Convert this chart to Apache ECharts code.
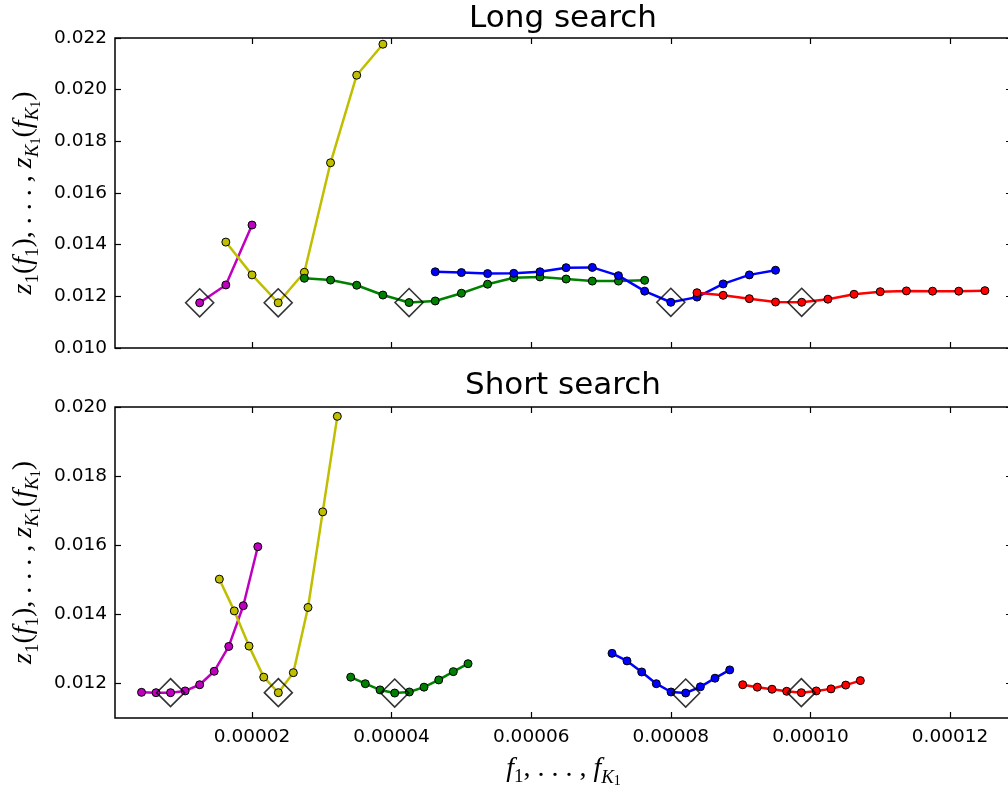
<!DOCTYPE html>
<html>
<head>
<meta charset="utf-8">
<script src="https://cdn.jsdelivr.net/npm/echarts@6/dist/echarts.min.js"></script>
<style>
  html, body { margin: 0; padding: 0; background: #fff; }
  #chart { width: 1008px; height: 789px; }
</style>
</head>
<body>
<div id="chart"></div>
<script>
// ---- Long search: candidate frequencies (f) and objective values (z) ----
const longMagentaF = [12.5e-6, 16.25e-6, 20.0e-6];
const longMagentaZ = [0.01175, 0.01244, 0.01476];
const longYellowF = [16.25e-6, 20.0e-6, 23.75e-6, 27.5e-6, 31.25e-6, 35.0e-6, 38.75e-6];
const longYellowZ = [0.01410, 0.01283, 0.01175, 0.01293, 0.01717, 0.02056, 0.02176];
const longGreenF = [27.5e-6, 31.25e-6, 35.0e-6, 38.75e-6, 42.5e-6, 46.25e-6, 50.0e-6,
                    53.75e-6, 57.5e-6, 61.25e-6, 65.0e-6, 68.75e-6, 72.5e-6, 76.25e-6];
const longGreenZ = [0.01270, 0.01263, 0.01243, 0.01205, 0.01176, 0.01182, 0.01212,
                    0.01247, 0.01272, 0.01275, 0.01267, 0.01259, 0.01259, 0.01262];
const longBlueF = [46.25e-6, 50.0e-6, 53.75e-6, 57.5e-6, 61.25e-6, 65.0e-6, 68.75e-6,
                   72.5e-6, 76.25e-6, 80.0e-6, 83.75e-6, 87.5e-6, 91.25e-6, 95.0e-6];
const longBlueZ = [0.01295, 0.01292, 0.01288, 0.01289, 0.01295, 0.01311, 0.01312,
                   0.01280, 0.01220, 0.01177, 0.01197, 0.01248, 0.01283, 0.01301];
const longRedF = [83.75e-6, 87.5e-6, 91.25e-6, 95.0e-6, 98.75e-6, 102.5e-6,
                  106.25e-6, 110.0e-6, 113.75e-6, 117.5e-6, 121.25e-6, 125.0e-6];
const longRedZ = [0.01214, 0.01204, 0.01191, 0.01178, 0.01177, 0.01189,
                  0.01208, 0.01218, 0.01221, 0.01220, 0.01220, 0.01222];
const longMinF = [12.5e-6, 23.75e-6, 42.5e-6, 80.0e-6, 98.75e-6];
const longMinZ = [0.01175, 0.01175, 0.01176, 0.01177, 0.01177];

// ---- Short search ----
const shortMagentaF = [4.17e-6, 6.25e-6, 8.33e-6, 10.42e-6, 12.5e-6, 14.58e-6, 16.67e-6, 18.75e-6, 20.83e-6];
const shortMagentaZ = [0.01173, 0.01172, 0.01172, 0.01177, 0.01195, 0.01234, 0.01306, 0.01424, 0.01595];
const shortYellowF = [15.32e-6, 17.46e-6, 19.57e-6, 21.68e-6, 23.77e-6, 25.92e-6, 28.02e-6, 30.13e-6, 32.22e-6];
const shortYellowZ = [0.01501, 0.01409, 0.01307, 0.01217, 0.01172, 0.01230, 0.01419, 0.01696, 0.01973];
const shortGreenF = [34.14e-6, 36.23e-6, 38.34e-6, 40.44e-6, 42.54e-6, 44.64e-6, 46.75e-6, 48.84e-6, 50.95e-6];
const shortGreenZ = [0.01217, 0.01198, 0.01180, 0.01171, 0.01174, 0.01188, 0.01209, 0.01233, 0.01256];
const shortBlueF = [71.58e-6, 73.72e-6, 75.83e-6, 77.92e-6, 80.03e-6, 82.13e-6, 84.23e-6, 86.33e-6, 88.44e-6];
const shortBlueZ = [0.01286, 0.01264, 0.01232, 0.01198, 0.01174, 0.01171, 0.01189, 0.01214, 0.01238];
const shortRedF = [90.3e-6, 92.39e-6, 94.5e-6, 96.6e-6, 98.7e-6, 100.84e-6, 102.95e-6, 105.06e-6, 107.15e-6];
const shortRedZ = [0.01195, 0.01188, 0.01182, 0.01176, 0.01172, 0.01177, 0.01183, 0.01194, 0.01207];
const shortMinF = [8.33e-6, 23.77e-6, 40.44e-6, 82.13e-6, 98.7e-6];
const shortMinZ = [0.01172, 0.01172, 0.01171, 0.01171, 0.01172];

// ---- Tick values ----
const fTicks = [0.00002, 0.00004, 0.00006, 0.00008, 0.00010, 0.00012];
const longZTicks = [0.010, 0.012, 0.014, 0.016, 0.018, 0.020, 0.022];
const shortZTicks = [0.012, 0.014, 0.016, 0.018, 0.020];

const titles = ['Long search', 'Short search'];

const COLORS = { magenta: '#bf00bf', yellow: '#bfbf00', green: '#008000', blue: '#0000ff', red: '#ff0000' };

const pairs = (xs, ys) => xs.map((x, i) => [x, ys[i]]);

const TICK_FONT = 'DejaVu Sans';
const MATH_FONT = 'Liberation Serif';

// mathtext-like rich styles
const mathRich = {
  i:  { fontFamily: MATH_FONT, fontStyle: 'italic', fontSize: 28, lineHeight: 38, verticalAlign: 'middle', color: '#000' },
  n:  { fontFamily: MATH_FONT, fontSize: 28, lineHeight: 38, verticalAlign: 'middle', color: '#000' },
  s:  { fontFamily: MATH_FONT, fontStyle: 'italic', fontSize: 19, verticalAlign: 'bottom', padding: [0, 0, 1, 0], color: '#000' },
  d:  { fontFamily: MATH_FONT, fontSize: 19, verticalAlign: 'bottom', padding: [0, 0, 1, 0], color: '#000' },
  dd: { fontFamily: MATH_FONT, fontSize: 14, verticalAlign: 'bottom', padding: [0, 0, 0, 0], color: '#000' }
};
const zName = '{i|z}{d|1}{n|(}{i|f}{d|1}{n|), . . . , }{i|z}{s|K}{dd|1}{n|(}{i|f}{s|K}{dd|1}{n|)}';
const fName = '{i|f}{d|1}{n|, . . . , }{i|f}{s|K}{dd|1}';

const F_MIN = 0.37e-6, F_MAX = 128.88e-6;

function xAxes(gridIndex, showLabels) {
  const tick = { show: true, inside: true, length: 6, customValues: fTicks, lineStyle: { color: '#000', width: 1.2 } };
  return [
    {
      type: 'value', gridIndex, position: 'bottom', min: F_MIN, max: F_MAX,
      axisLine: { show: false }, splitLine: { show: false },
      axisTick: tick,
      axisLabel: {
        show: showLabels, customValues: fTicks, margin: 10,
        formatter: v => v.toFixed(5), color: '#000', fontFamily: TICK_FONT, fontSize: 18.5
      },
      name: showLabels ? fName : '', nameLocation: 'middle', nameGap: 32,
      nameTextStyle: { rich: mathRich }
    },
    {
      type: 'value', gridIndex, position: 'top', min: F_MIN, max: F_MAX,
      axisLine: { show: false }, splitLine: { show: false },
      axisTick: tick, axisLabel: { show: false }
    }
  ];
}

function yAxes(gridIndex, min, max, ticks) {
  const tick = { show: true, inside: true, length: 6, customValues: ticks, lineStyle: { color: '#000', width: 1.2 } };
  return [
    {
      type: 'value', gridIndex, position: 'left', min, max,
      axisLine: { show: false }, splitLine: { show: false },
      axisTick: tick,
      axisLabel: {
        customValues: ticks, margin: 8, formatter: v => v.toFixed(3),
        color: '#000', fontFamily: TICK_FONT, fontSize: 18.5
      },
      name: zName, nameLocation: 'middle', nameRotate: 90, nameGap: 68,
      nameTextStyle: { rich: mathRich }
    },
    {
      type: 'value', gridIndex, position: 'right', min, max,
      axisLine: { show: false }, splitLine: { show: false },
      axisTick: tick, axisLabel: { show: false }
    }
  ];
}

function curve(name, xs, ys, color, axisBase) {
  return {
    name, type: 'line', data: pairs(xs, ys),
    xAxisIndex: axisBase, yAxisIndex: axisBase,
    symbol: 'circle', symbolSize: 8,
    lineStyle: { color, width: 2.5 },
    itemStyle: { color, borderColor: '#000', borderWidth: 1 },
    z: 2, animation: false
  };
}

function minima(xs, ys, axisBase) {
  return {
    type: 'scatter', data: pairs(xs, ys),
    xAxisIndex: axisBase, yAxisIndex: axisBase,
    symbol: 'diamond', symbolSize: 28,
    itemStyle: { color: 'rgba(0,0,0,0)', borderColor: '#000', borderWidth: 1.6 },
    z: 3, animation: false
  };
}

const chart = echarts.init(document.getElementById('chart'), null, { renderer: 'canvas' });

const gridBase = {
  left: 115, width: 897, show: true, borderColor: '#000', borderWidth: 1.5,
  backgroundColor: 'transparent', containLabel: false, outerBoundsMode: 'none'
};

const option = {
  backgroundColor: '#fff',
  animation: false,
  title: [
    { text: titles[0], left: 563, top: 3, textAlign: 'center', padding: 0,
      textStyle: { fontFamily: TICK_FONT, fontSize: 31, fontWeight: 'normal', color: '#000' } },
    { text: titles[1], left: 563, top: 370, textAlign: 'center', padding: 0,
      textStyle: { fontFamily: TICK_FONT, fontSize: 31, fontWeight: 'normal', color: '#000' } }
  ],
  grid: [
    Object.assign({}, gridBase, { top: 38, height: 310 }),
    Object.assign({}, gridBase, { top: 407, height: 311 })
  ],
  xAxis: [...xAxes(0, false), ...xAxes(1, true)],
  yAxis: [...yAxes(0, 0.010, 0.022, longZTicks), ...yAxes(1, 0.010986, 0.020, shortZTicks)],
  series: [
    curve('magenta', longMagentaF, longMagentaZ, COLORS.magenta, 0),
    curve('yellow', longYellowF, longYellowZ, COLORS.yellow, 0),
    curve('green', longGreenF, longGreenZ, COLORS.green, 0),
    curve('blue', longBlueF, longBlueZ, COLORS.blue, 0),
    curve('red', longRedF, longRedZ, COLORS.red, 0),
    minima(longMinF, longMinZ, 0),
    curve('magenta', shortMagentaF, shortMagentaZ, COLORS.magenta, 2),
    curve('yellow', shortYellowF, shortYellowZ, COLORS.yellow, 2),
    curve('green', shortGreenF, shortGreenZ, COLORS.green, 2),
    curve('blue', shortBlueF, shortBlueZ, COLORS.blue, 2),
    curve('red', shortRedF, shortRedZ, COLORS.red, 2),
    minima(shortMinF, shortMinZ, 2)
  ]
};

chart.setOption(option);
</script>
</body>
</html>
